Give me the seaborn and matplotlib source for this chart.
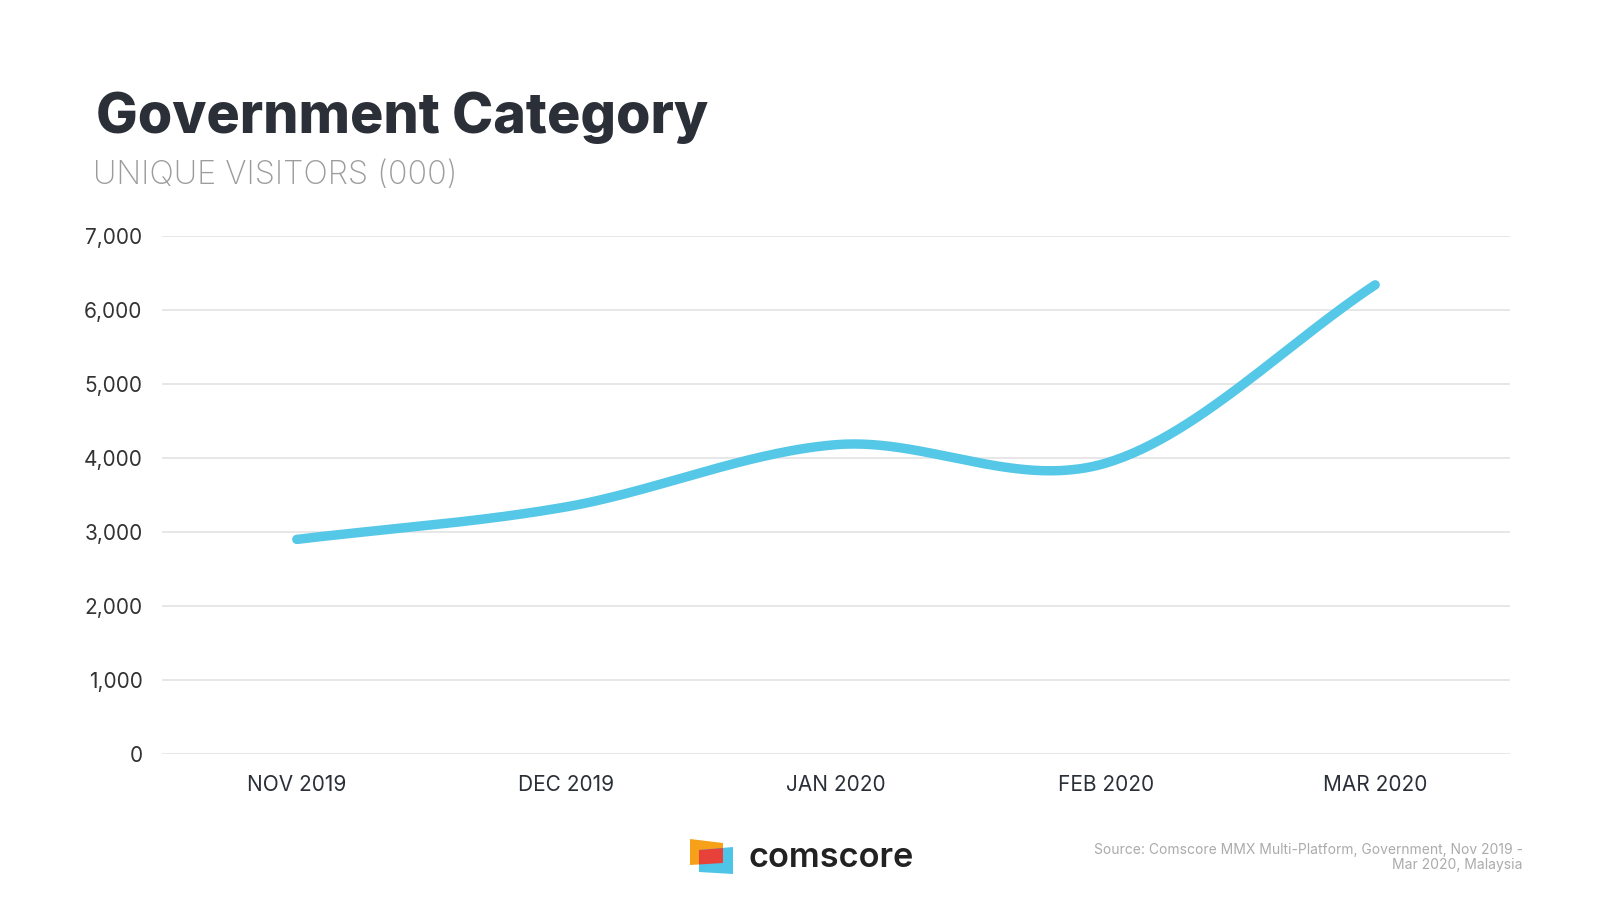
import numpy as np
import matplotlib
matplotlib.use("Agg")
import matplotlib.pyplot as plt
from matplotlib.patches import Polygon
import seaborn as sns

# ── data ─────────────────────────────────────────────────────────────────────
months = ["NOV 2019", "DEC 2019", "JAN 2020", "FEB 2020", "MAR 2020"]
visitors = [2900, 3340, 4180, 3930, 6340]   # unique visitors (000)
y_ticks = [0, 1000, 2000, 3000, 4000, 5000, 6000, 7000]

TITLE = "Government Category"
SUBTITLE = "UNIQUE VISITORS (000)"
SOURCE = "Source: Comscore MMX Multi-Platform, Government, Nov 2019 -\nMar 2020, Malaysia"

LINE_COL = "#55C7E7"
DARK = "#2B2F38"


def catmull_rom(y, n=60):
    # smooth curve through the points (drawing only, the data stay the 5 values)
    y = np.asarray(y, float)
    k = len(y)
    m = np.empty(k)
    m[1:-1] = (y[2:] - y[:-2]) / 2
    m[0] = y[1] - y[0]
    m[-1] = y[-1] - y[-2]
    xs, ys = [], []
    for i in range(k - 1):
        t = np.linspace(0, 1, n, endpoint=(i == k - 2))
        h00 = 2*t**3 - 3*t**2 + 1; h10 = t**3 - 2*t**2 + t
        h01 = -2*t**3 + 3*t**2;    h11 = t**3 - t**2
        xs.append(i + t)
        ys.append(h00*y[i] + h10*m[i] + h01*y[i+1] + h11*m[i+1])
    return np.concatenate(xs), np.concatenate(ys)


sns.set_theme(style="white")
plt.rcParams["font.family"] = ["Inter", "DejaVu Sans"]

fig = plt.figure(figsize=(16, 9), dpi=100)
ax = fig.add_axes([0.10125, 0.1622, 0.8425, 0.5756])

sx, sy = catmull_rom(visitors)
sns.lineplot(x=sx, y=sy, ax=ax, color=LINE_COL, lw=6.8, solid_capstyle="round", sort=False)

ax.set_xlim(-0.5, len(months) - 0.5)
ax.set_ylim(0, 7000)
ax.set_xticks(range(len(months)), months)
ax.set_yticks(y_ticks, [f"{v:,}" for v in y_ticks])
ax.tick_params(axis="x", labelsize=15, colors="#2B2F38", length=0, pad=15)
ax.tick_params(axis="y", labelsize=15, colors="#333333", length=0, pad=14)
ax.grid(axis="y", color="#E3E3E3", lw=1.2)
ax.set_axisbelow(True)
sns.despine(ax=ax, left=True, bottom=True)
ax.set_xlabel(""); ax.set_ylabel("")

fig.text(0.06, 0.852, TITLE, fontsize=40, fontweight="heavy", color=DARK)
fig.text(0.058, 0.796, SUBTITLE, fontsize=23.3, fontweight="light", color="#9C9C9C")

# logo
def fig_poly(pts, col):
    fig.patches.append(Polygon([(x / 1600, 1 - y / 900) for x, y in pts], closed=True,
                               transform=fig.transFigure, facecolor=col, edgecolor="none"))
fig_poly([(690, 839), (723, 843), (723, 863), (690, 865)], "#F7A11A")
fig_poly([(699, 850), (733, 847), (733, 874), (699, 872)], "#4EC5E6")
fig_poly([(699, 850), (723, 848), (723, 863), (699, 864.5)], "#E8413A")
fig.text(749 / 1600, 1 - 867 / 900, "comscore", fontsize=24.7, fontweight="semibold", color="#222222")

fig.text(1523 / 1600, 1 - 869 / 900, SOURCE, fontsize=10, color="#ABABAB", ha="right",
         va="baseline", linespacing=1.1, multialignment="right")

fig.savefig("out.png", dpi=100, facecolor="white")
